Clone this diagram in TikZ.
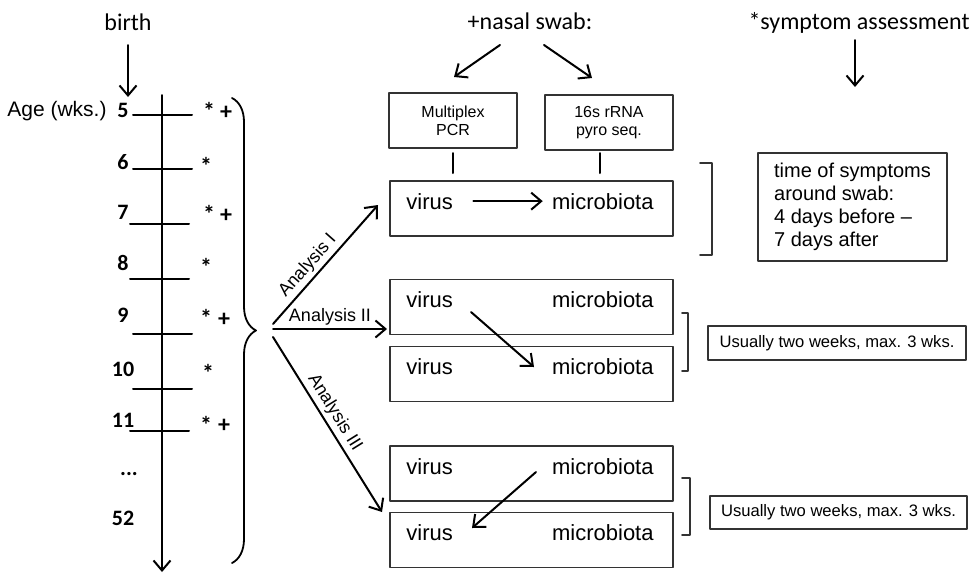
\documentclass[tikz,border=0pt]{standalone}
\usepackage{fontspec}
\setmainfont{Liberation Sans}
\newfontfamily\calib{Carlito}
\usetikzlibrary{arrows.meta,decorations.pathreplacing}
\definecolor{boxgray}{rgb}{0.2,0.2,0.2}

\begin{document}
\begin{tikzpicture}[line cap=round,line join=round,x=0.5pt,y=-0.5pt,
  arr/.style={-{Straight Barb[length=5pt,width=8.5pt]},line width=1pt},
  ln/.style={line width=1pt},
  brk/.style={draw=boxgray,line width=0.8pt},
  box/.style={draw=boxgray,line width=0.9pt,inner sep=0pt},
  lbl/.style={font=\fontsize{11}{13}\selectfont,inner sep=0pt},
  hd/.style={font=\calib\fontsize{12}{14}\selectfont},
  wk/.style={font=\calib\bfseries\fontsize{11}{13}\selectfont},
  mk/.style={font=\calib\bfseries\fontsize{12}{13}\selectfont},
  an/.style={font=\fontsize{9}{11}\selectfont,inner sep=1.5pt},
  sm/.style={font=\fontsize{8}{9}\selectfont}]
\useasboundingbox (0,0) rectangle (973,574);
% time line
\node[hd,anchor=base] (birth) at (128,30) {birth};
\coordinate (b1) at (128,45);
\coordinate (b2) at (128,97);
\draw[arr] (b1) -- (b2);
\node[font=\fontsize{10.5}{12}\selectfont,inner sep=0pt,anchor=base east] (agelbl) at (107,116) {Age (wks.)};
\coordinate (axtop) at (162,95);
\coordinate (axend) at (162,572);
\draw[arr] (axtop) -- (axend);
\foreach \y/\a in {115/133,169/133,224/130,279/130,334/133,389/133,431/130}
  \draw[ln] (\a,\y) -- (\a+59,\y);
\foreach \n/\y in {5/117,6/169,7/219,8/270,9/322,10/376,11/427,52/525}
  \node[wk,anchor=base] (age\n) at (123,\y) {\n};
\node[wk,anchor=base] (agedots) at (129,475) {...};
\foreach \n/\x/\y in {5/209/119,6/206/174,7/209/222,8/206/275,9/206/326,10/208/381,11/206/433}
  \node[mk,anchor=base] (st\n) at (\x,\y) {*};
\foreach \n/\x/\y in {5/226/119,7/226/222,9/224/326,11/224/432}
  \node[mk,anchor=base] (pl\n) at (\x,\y) {+};
\draw[line width=0.9pt,decorate,decoration={brace,amplitude=12pt}] (232,98) -- (232,563);
% analyses
\coordinate (fkI) at (273,324);
\coordinate (fkII) at (273,329);
\coordinate (fkIII) at (273,337);
\coordinate (tipI) at (378,205);
\coordinate (tipII) at (387,329);
\coordinate (tipIII) at (382,512);
\draw[arr] (fkI) -- node[an,sloped,above,pos=0.42] (anI) {Analysis I} (tipI);
\draw[arr] (fkII) -- node[an,above] (anII) {Analysis II} (tipII);
\draw[arr] (fkIII) -- node[an,sloped,above,pos=0.47] (anIII) {Analysis III} (tipIII);
% nasal swab
\node[hd,anchor=base] (nasal) at (530,29) {+nasal swab:};
\coordinate (n1) at (500,45);
\coordinate (n2) at (454,77);
\coordinate (n3) at (544,45);
\coordinate (n4) at (592,78);
\draw[arr] (n1) -- (n2);
\draw[arr] (n3) -- (n4);
\node[box,sm,align=center,minimum width=64pt,minimum height=27.5pt] (mpcr) at (453,120.5) {Multiplex\\PCR};
\node[box,sm,align=center,minimum width=64pt,minimum height=27.5pt] (pyro) at (609,122.5) {16s rRNA\\pyro seq.};
\coordinate (pcrA) at (453,153);
\coordinate (pcrB) at (453,173);
\coordinate (seqA) at (600,153);
\coordinate (seqB) at (600,173);
\draw[ln] (pcrA) -- (pcrB);
\draw[ln] (seqA) -- (seqB);
\foreach \b/\y in {I/208.5,IIa/307,IIb/374,IIIa/473.5,IIIb/540}{
  \node[box,minimum width=141.5pt,minimum height=27.5pt] (box\b) at (531.5,\y) {};
  \node[lbl,anchor=base west] (v\b) at (406,\y+0.5) {virus};
  \node[lbl,anchor=base east] (m\b) at (654,\y+0.5) {microbiota};
}
\draw[arr,shorten <=10pt,shorten >=4.5pt] (vI) -- (mI);
\coordinate (dIIa) at (471,312);
\coordinate (dIIb) at (534,367);
\draw[arr] (dIIa) -- (dIIb);
\coordinate (dIIIa) at (536,472);
\coordinate (dIIIb) at (472,528);
\draw[arr] (dIIIa) -- (dIIIb);
% symptoms
\node[hd,anchor=base] (symptom) at (859,29) {*symptom assessment};
\coordinate (s1) at (855,40);
\coordinate (s2) at (855,87);
\draw[arr] (s1) -- (s2);
\draw[brk] (700,163) -- (712,163) -- (712,255) -- (700,255);
\draw[brk] (682,313) -- (688,313) -- (688,371) -- (682,371);
\draw[brk] (682,478) -- (690,478) -- (690,535) -- (682,535);
\node[box,font=\fontsize{10}{11.5}\selectfont,align=left,minimum width=94.5pt,minimum height=54pt] (symp) at (852.5,207) {time of symptoms\\around swab:\\4 days before \textendash\\7 days after};
\node[box,font=\fontsize{8.3}{9}\selectfont,minimum width=129pt,minimum height=17pt] (usII) at (837,343) {Usually two weeks, max. 3 wks.};
\node[box,font=\fontsize{8.3}{9}\selectfont,minimum width=128.5pt,minimum height=16.5pt] (usIII) at (838.5,512.5) {Usually two weeks, max. 3 wks.};
\end{tikzpicture}
\end{document}
